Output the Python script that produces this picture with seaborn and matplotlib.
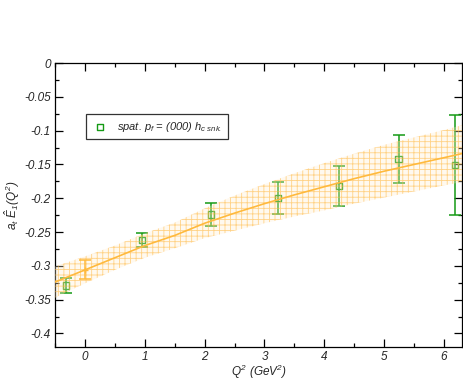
import numpy as np
import pandas as pd
import matplotlib
matplotlib.use("Agg")
import matplotlib.pyplot as plt
from matplotlib.ticker import MultipleLocator
import seaborn as sns

# Lattice data points (green squares)
q2 = [-0.32, 0.95, 2.11, 3.22, 4.24, 5.24, 6.18]
e1 = [-0.329, -0.262, -0.224, -0.200, -0.182, -0.142, -0.151]
e1_err = [0.011, 0.010, 0.017, 0.024, 0.030, 0.036, 0.074]

# Extrapolated value at Q^2 = 0 (orange)
q2_zero = [0.0]
e1_zero = [-0.306]
e1_zero_err = [0.014]

# Fit curve and error band
fit_q2 = [-0.5, 0, 0.5, 1, 1.5, 2, 2.5, 3, 3.5, 4, 4.5, 5, 5.5, 6, 6.3]
fit_e1 = [-0.324, -0.306, -0.288, -0.270, -0.255, -0.237, -0.222, -0.208,
          -0.195, -0.183, -0.171, -0.160, -0.150, -0.140, -0.134]
fit_err = [0.023, 0.020, 0.018, 0.018, 0.019, 0.022, 0.026, 0.029,
           0.032, 0.035, 0.037, 0.039, 0.040, 0.041, 0.042]

sns.set_style("ticks")
plt.rcParams['font.family'] = ['Liberation Sans', 'DejaVu Sans']
plt.rcParams['font.style'] = 'italic'
plt.rcParams['mathtext.fontset'] = 'custom'
plt.rcParams['mathtext.rm'] = 'Liberation Sans:italic'
plt.rcParams['mathtext.it'] = 'Liberation Sans:italic'
plt.rcParams['hatch.linewidth'] = 0.6

orange = '#ffa500'
green = '#159a15'

fit_df = pd.DataFrame({'q2': fit_q2, 'e1': fit_e1})
lo = np.array(fit_e1) - np.array(fit_err)
hi = np.array(fit_e1) + np.array(fit_err)

fig, ax = plt.subplots(figsize=(4.63, 3.8), dpi=100)
fig.subplots_adjust(left=55/463, right=462/463, top=1-63/380, bottom=1-347/380)

# data points
ax.errorbar(q2, e1, yerr=e1_err, fmt='none', ecolor=green, elinewidth=1.1,
            capsize=4, capthick=1.1, zorder=2)
sns.scatterplot(x=q2, y=e1, ax=ax, marker='s', s=20, facecolor='none',
                edgecolor=green, linewidth=1.0, zorder=2,
                label=r'spat. $p_f$ = (000) $h_{c\ snk.}$')

# Q^2 = 0 point
ax.errorbar(q2_zero, e1_zero, yerr=e1_zero_err, fmt='+', color=orange,
            ms=4, elinewidth=1.1, capsize=4, capthick=1.1, zorder=2)

# fit line and band
sns.lineplot(data=fit_df, x='q2', y='e1', ax=ax, color=orange, lw=1.2, zorder=3)
ax.fill_between(fit_q2, lo, hi, facecolor=(1, 0.93, 0.8, 0.3),
                edgecolor=(1.0, 0.72, 0.25, 0.6), hatch='+++', linewidth=0, zorder=4)

ax.set_xlim(-0.5, 6.3)
ax.set_ylim(-0.42, 0)
ax.xaxis.set_major_locator(MultipleLocator(1))
ax.xaxis.set_minor_locator(MultipleLocator(0.5))
ax.yaxis.set_minor_locator(MultipleLocator(0.025))
ax.set_yticks(np.arange(-0.4, 0.001, 0.05))
ax.set_yticklabels(['-0.4', '-0.35', '-0.3', '-0.25', '-0.2', '-0.15', '-0.1', '-0.05', '0'])
ax.tick_params(which='both', direction='in', top=True, right=True, labelsize=8.5,
               width=0.9, color='black', pad=3)
ax.tick_params(which='major', length=6)
ax.tick_params(which='minor', length=3)
for s in ax.spines.values():
    s.set_linewidth(0.9)
    s.set_color('black')

ax.set_xlabel(r'$Q^2$ (GeV$^2$)', fontsize=8.5)
ax.set_ylabel(r'$a_t\ \hat{E}_1(Q^2)$', fontsize=8.5)
ax.xaxis.set_label_coords(0.5, -0.055)
ax.yaxis.set_label_coords(-0.08, 0.5)

leg = ax.legend(loc='upper left', bbox_to_anchor=(0.062, 0.84), fontsize=8,
                frameon=True, fancybox=False, edgecolor='black', handletextpad=0.8,
                borderpad=0.5, handlelength=1.5)
leg.get_frame().set_linewidth(0.9)

fig.savefig('out.png', dpi=100)
